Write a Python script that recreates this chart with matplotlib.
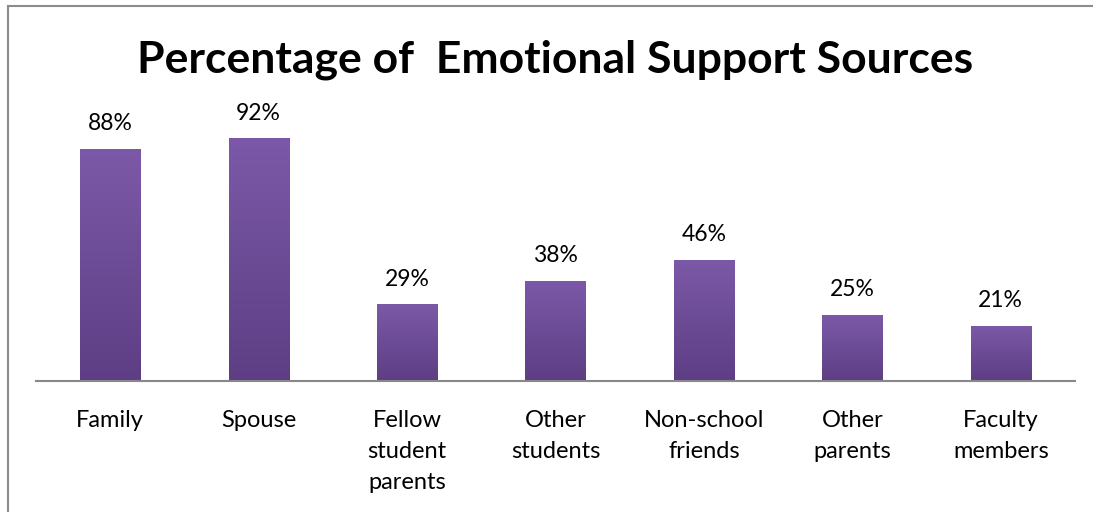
import matplotlib
matplotlib.use("Agg")
import matplotlib.pyplot as plt
import numpy as np
from matplotlib.colors import LinearSegmentedColormap
from matplotlib.patches import Rectangle
from matplotlib.lines import Line2D
from matplotlib.transforms import offset_copy, blended_transform_factory

categories = ["Family", "Spouse", "Fellow\nstudent\nparents", "Other\nstudents",
              "Non-school\nfriends", "Other\nparents", "Faculty\nmembers"]
values = [88, 92, 29, 38, 46, 25, 21]
value_labels = ["88%", "92%", "29%", "38%", "46%", "25%", "21%"]
title = "Percentage of  Emotional Support Sources"

plt.rcParams['font.family'] = ['Lato', 'DejaVu Sans']

fig = plt.figure(figsize=(10.93, 5.12), dpi=100)
fig.patch.set_linewidth(0)
W, H = 1093, 512

# chart area border (left and top edges)
fig.add_artist(Line2D([7.5 / W, 7.5 / W], [0, 1 - 5.5 / H], transform=fig.transFigure,
                      color="#8c8c8c", linewidth=1.5))
fig.add_artist(Line2D([7.5 / W, 1], [1 - 5.5 / H, 1 - 5.5 / H], transform=fig.transFigure,
                      color="#8c8c8c", linewidth=1.5))

ax = fig.add_axes([36 / W, (512 - 381) / H, (1075 - 36) / W, (381 - 117) / H])
ax.set_xlim(-0.5, len(categories) - 0.5)
ax.set_ylim(0, 100)
for s in ["top", "right", "left"]:
    ax.spines[s].set_visible(False)
ax.spines["bottom"].set_color("#888888")
ax.spines["bottom"].set_linewidth(1.5)
ax.set_yticks([])
ax.set_xticks([])

# category labels, one line at a time below the axis
trans = blended_transform_factory(ax.transData, ax.transAxes)
for i, cat in enumerate(categories):
    for j, line in enumerate(cat.split("\n")):
        t = offset_copy(trans, fig=fig, x=0, y=-(39.5 + 31 * j) * 72 / 100, units="points")
        ax.text(i, 0, line, transform=t, ha="center", va="center", fontsize=17,
                color="black", clip_on=False)

cmap = LinearSegmentedColormap.from_list("purp", ["#5d3e84", "#7c59a8"])
grad = np.linspace(0, 1, 256).reshape(-1, 1)
bw = 0.405
x = np.arange(len(values))
bars = ax.bar(x, values, width=bw, color="none", edgecolor="none")
for b, v, lab in zip(bars, values, value_labels):
    x0 = b.get_x()
    # soft shadow beneath the bar
    for k, a in enumerate([0.10, 0.07, 0.04]):
        sh = Rectangle((x0 + 0.004, -0.3 - k * 0.4), bw, v, facecolor="black",
                       alpha=a, edgecolor="none", zorder=1)
        ax.add_patch(sh)
    rect = Rectangle((x0, 0), bw, v, facecolor="none", edgecolor="none", zorder=2)
    ax.add_patch(rect)
    im = ax.imshow(grad, extent=[x0, x0 + bw, 0, v], origin="lower", cmap=cmap,
                   aspect="auto", zorder=2)
    im.set_clip_path(rect)
    ax.annotate(lab, (b.get_x() + bw / 2, v), xytext=(0, 25 * 72 / 100),
                textcoords="offset points", ha="center", va="center", fontsize=16.5,
                color="black")
ax.set_xlim(-0.5, len(categories) - 0.5)
ax.set_ylim(0, 100)

fig.text(555 / W, 1 - 60 / H, title, ha="center", va="center", fontsize=32,
         fontweight="bold")

fig.savefig("out.png", dpi=100)
